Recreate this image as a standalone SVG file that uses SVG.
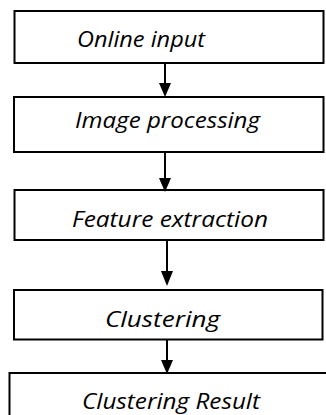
<svg xmlns="http://www.w3.org/2000/svg" width="326" height="415" viewBox="0 0 326 415">
<style>
.box{fill:#fff;stroke:#000;stroke-width:2}
.lbl{font-family:"Open Sans","Noto Sans",sans-serif;font-style:italic;font-size:22px;fill:#000}
.conn{stroke:#000;stroke-width:2;fill:none}
.head{fill:#000}
</style>
<rect width="326" height="415" fill="#fff"/>
<g id="node-online-input">
<rect class="box" x="14.5" y="11" width="309" height="52"/>
<text class="lbl" x="77" y="47" textLength="128" lengthAdjust="spacingAndGlyphs">Online input</text>
</g>
<g id="node-image-processing">
<rect class="box" x="14" y="97" width="309.5" height="55"/>
<text class="lbl" x="75" y="127.5" textLength="185" lengthAdjust="spacingAndGlyphs">Image processing</text>
</g>
<g id="node-feature-extraction">
<rect class="box" x="14.5" y="190" width="309" height="50"/>
<text class="lbl" x="72" y="226.5" textLength="196" lengthAdjust="spacingAndGlyphs">Feature extraction</text>
</g>
<g id="node-clustering">
<rect class="box" x="14" y="290" width="308.5" height="49.5"/>
<text class="lbl" x="105" y="326.5" textLength="115" lengthAdjust="spacingAndGlyphs">Clustering</text>
</g>
<g id="node-clustering-result">
<rect class="box" x="9.5" y="373" width="320" height="60"/>
<text class="lbl" x="82" y="408.5" textLength="178" lengthAdjust="spacingAndGlyphs">Clustering Result</text>
</g>
<g id="connectors">
<line class="conn" x1="165" y1="63" x2="165" y2="84"/>
<polygon class="head" points="159,83 171,83 165,97"/>
<line class="conn" x1="165" y1="152" x2="165" y2="179"/>
<polygon class="head" points="159,178 171,178 165,192"/>
<line class="conn" x1="167" y1="240" x2="167" y2="272"/>
<polygon class="head" points="161,271 173,271 167,286"/>
<line class="conn" x1="167" y1="340" x2="167" y2="361"/>
<polygon class="head" points="161,360 173,360 167,374"/>
</g>
</svg>
